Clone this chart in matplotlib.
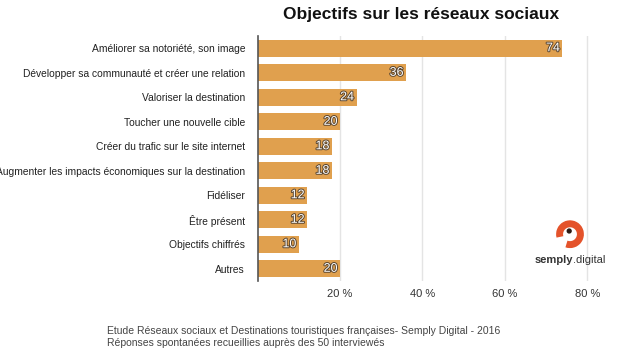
import matplotlib.pyplot as plt
import matplotlib.patheffects as pe
from matplotlib.patches import Arc, Circle

# data
categories = [
    "Améliorer sa notoriété, son image",
    "Développer sa communauté et créer une relation",
    "Valoriser la destination",
    "Toucher une nouvelle cible",
    "Créer du trafic sur le site internet",
    "Augmenter les impacts économiques sur la destination",
    "Fidéliser",
    "Être présent",
    "Objectifs chiffrés",
    "Autres",
]
values = [74, 36, 24, 20, 18, 18, 12, 12, 10, 20]
ticks = [20, 40, 60, 80]
tick_labels = ["20 %", "40 %", "60 %", "80 %"]

title = "Objectifs sur les réseaux sociaux"
footer = ("Etude Réseaux sociaux et Destinations touristiques françaises- Semply Digital - 2016\n"
          "Réponses spontanées recueillies auprès des 50 interviewés")

bar_color = "#E0A04E"
plt.rcParams['font.family'] = ["Liberation Sans", "DejaVu Sans"]

fig = plt.figure(figsize=(6.4, 3.6), dpi=100)
ax = fig.add_axes([0.4027, 0.2194, 0.592, 0.6806])

y = list(range(len(categories)))
ax.barh(y, values, height=0.7, color=bar_color, zorder=2)
for yi, v in zip(y, values):
    ax.text(v - 0.6, yi, str(v), ha='right', va='center', fontsize=9, color='white',
            zorder=3, path_effects=[pe.withStroke(linewidth=1.4, foreground='#5a4630')])

ax.set_xlim(0, 92)
ax.set_ylim(9.5, -0.5)
ax.set_yticks(y)
ax.set_yticklabels(categories, fontsize=7.4, color='#222222')
ax.set_xticks(ticks)
ax.set_xticklabels(tick_labels, fontsize=8, color='#333333')
ax.tick_params(axis='both', length=0)
ax.tick_params(axis='y', pad=9)
ax.tick_params(axis='x', pad=6)
ax.grid(axis='x', color='#e4e4e4', linewidth=1, zorder=0)
for s in ['top', 'right', 'bottom']:
    ax.spines[s].set_visible(False)
ax.spines['left'].set_color('#555555')
ax.spines['left'].set_linewidth(1.2)

fig.text(421 / 640, 1 - 14 / 360, title, ha='center', va='center', fontsize=12.5,
         fontweight='bold', color='#111111')
fig.text(107 / 640, 1 - 337 / 360, footer, ha='left', va='center', fontsize=7.5,
         color='#444444', linespacing=1.2)

# logo
lax = fig.add_axes([554 / 640, 1 - 251 / 360, 32 / 640, 32 / 360])
lax.set_xlim(-1, 1)
lax.set_ylim(-1, 1)
lax.set_aspect('equal')
lax.axis('off')
lax.add_patch(Arc((0, 0.05), 1.3, 1.3, theta1=-110, theta2=195, color='#E4532B', linewidth=5))
lax.add_patch(Circle((-0.05, 0.25), 0.12, color='#2a1a14'))
fig.text(573 / 640, 1 - 260 / 360, "semply", ha='right', va='center', fontsize=8,
         fontweight='bold', color='#333333')
fig.text(573 / 640, 1 - 260 / 360, ".digital", ha='left', va='center', fontsize=8,
         color='#333333')

fig.savefig("out.png", dpi=100)
